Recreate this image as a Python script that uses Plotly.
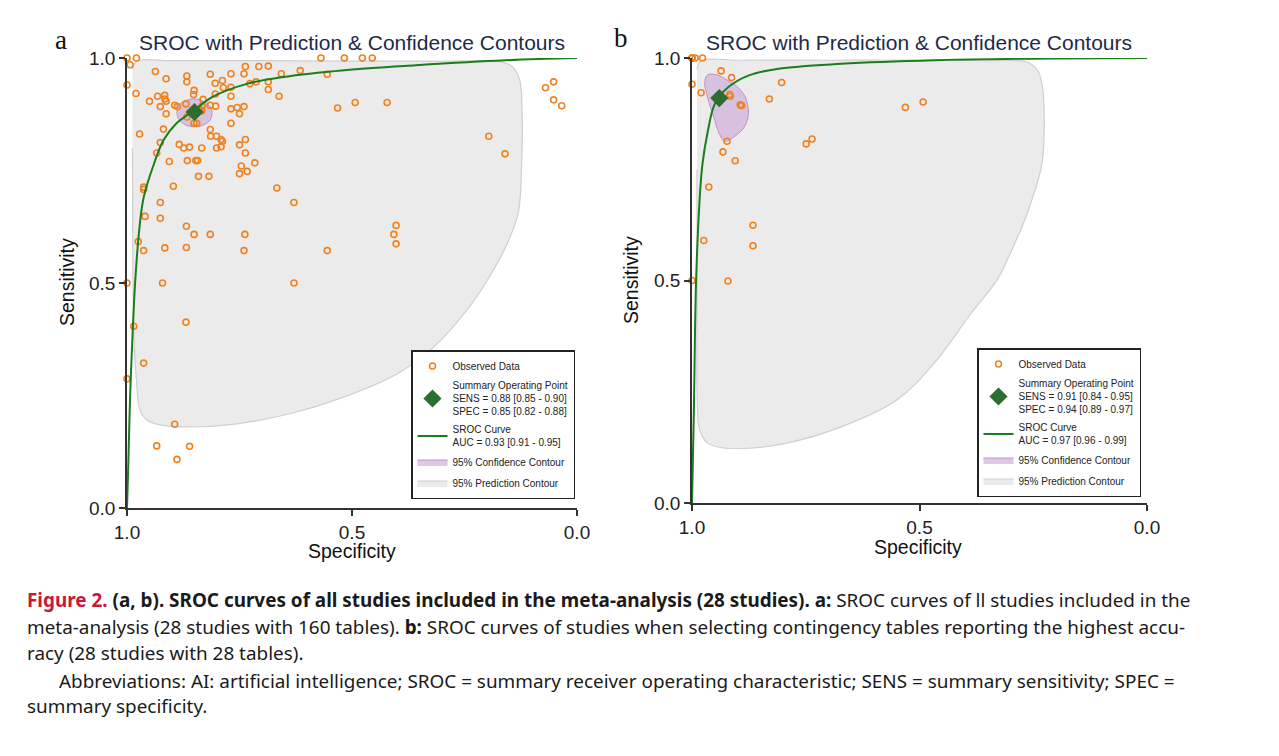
import plotly.graph_objects as go

# ---- panel a: all 160 tables (spec, sens) ----
a_spec = [1.000, 0.979, 0.993, 1.000, 0.569, 0.517, 0.477, 0.455, 0.937, 0.913,
          0.867, 0.867, 0.980, 0.950, 0.932, 0.916, 0.916, 0.913, 0.926, 0.913,
          0.894, 0.888, 0.851, 0.852, 0.815, 0.804, 0.788, 0.786, 0.769, 0.804,
          0.769, 0.740, 0.737, 0.707, 0.686, 0.727, 0.713, 0.686, 0.686, 0.662,
          0.657, 0.615, 0.555, 0.769, 0.769, 0.740, 0.750, 0.769, 0.831, 0.835,
          0.843, 0.851, 0.845, 0.867, 0.815, 0.814, 0.801, 0.791, 0.788, 0.801,
          0.791, 0.884, 0.874, 0.861, 0.834, 0.926, 0.919, 0.934, 0.906, 0.866,
          0.847, 0.843, 0.841, 0.818, 0.972, 0.750, 0.737, 0.737, 0.746, 0.750,
          0.733, 0.716, 0.897, 0.963, 0.963, 0.667, 0.629, 0.926, 0.926, 0.960,
          0.868, 0.851, 0.815, 0.738, 0.740, 0.868, 0.916, 0.963, 0.975, 0.555,
          0.402, 0.407, 0.402, 0.532, 0.493, 0.422, 0.196, 0.160, 0.070, 0.052,
          0.052, 0.034, 1.000, 0.921, 0.629, 0.869, 0.985, 0.963, 1.000, 0.894,
          0.934, 0.861, 0.889, 0.840, 0.834, 0.833, 0.815, 0.803, 0.755, 0.869]
a_sens = [1.000, 1.000, 0.985, 0.940, 1.000, 1.000, 1.000, 1.000, 0.970, 0.954,
          0.960, 0.947, 0.921, 0.904, 0.915, 0.917, 0.909, 0.904, 0.892, 0.876,
          0.895, 0.892, 0.928, 0.919, 0.964, 0.944, 0.950, 0.934, 0.935, 0.920,
          0.965, 0.965, 0.981, 0.981, 0.982, 0.943, 0.947, 0.947, 0.930, 0.915,
          0.965, 0.972, 0.964, 0.915, 0.887, 0.892, 0.876, 0.855, 0.908, 0.884,
          0.884, 0.855, 0.855, 0.869, 0.841, 0.826, 0.826, 0.819, 0.815, 0.800,
          0.803, 0.808, 0.800, 0.802, 0.800, 0.812, 0.842, 0.789, 0.770, 0.772,
          0.772, 0.772, 0.737, 0.737, 0.831, 0.807, 0.819, 0.789, 0.760, 0.743,
          0.748, 0.767, 0.715, 0.713, 0.708, 0.711, 0.679, 0.679, 0.644, 0.648,
          0.626, 0.608, 0.608, 0.608, 0.572, 0.579, 0.578, 0.572, 0.592, 0.572,
          0.628, 0.608, 0.587, 0.889, 0.901, 0.901, 0.826, 0.787, 0.934, 0.947,
          0.907, 0.894, 0.500, 0.500, 0.500, 0.413, 0.404, 0.322, 0.287, 0.186,
          0.138, 0.137, 0.108, 0.886, 0.882, 0.893, 0.895, 0.893, 0.890, 0.898]

a_sum_spec, a_sum_sens = 0.85, 0.88

a_curve_spec = [1.0, 0.997, 0.993, 0.987, 0.982, 0.973, 0.963, 0.940, 0.919, 0.891,
                0.854, 0.811, 0.732, 0.652, 0.517, 0.358, 0.159, 0.0]
a_curve_sens = [0.0, 0.10, 0.25, 0.40, 0.50, 0.616, 0.69, 0.765, 0.817, 0.854,
                0.881, 0.913, 0.943, 0.958, 0.973, 0.984, 0.995, 1.0]

a_conf_spec = [0.889, 0.884, 0.868, 0.848, 0.828, 0.814, 0.811, 0.817, 0.833, 0.853,
               0.873, 0.886, 0.889]
a_conf_sens = [0.880, 0.896, 0.906, 0.909, 0.903, 0.890, 0.874, 0.860, 0.850, 0.847,
               0.853, 0.866, 0.880]

a_pred_spec = [0.988, 0.978, 0.90, 0.70, 0.50, 0.30, 0.167, 0.143, 0.127, 0.122,
               0.123, 0.131, 0.159, 0.203, 0.239, 0.318, 0.398, 0.517, 0.636, 0.756,
               0.859, 0.923, 0.955, 0.971, 0.979, 0.985, 0.987, 0.988]
a_pred_sens = [0.975, 0.993, 0.994, 0.994, 0.993, 0.993, 0.991, 0.980, 0.950, 0.876,
               0.765, 0.654, 0.579, 0.500, 0.447, 0.358, 0.299, 0.247, 0.210, 0.187,
               0.180, 0.184, 0.195, 0.217, 0.284, 0.395, 0.55, 0.80]

# ---- panel b: highest-accuracy table per study ----
b_spec = [1.000, 0.993, 0.977, 1.000, 0.980, 0.936, 0.913, 0.917, 0.916, 0.894,
          0.891, 0.830, 0.803, 0.923, 0.932, 0.905, 0.749, 0.736, 0.531, 0.492,
          0.963, 0.866, 0.866, 0.974, 0.921, 1.000, 1.000, 1.000]
b_sens = [1.000, 1.000, 1.000, 0.941, 0.922, 0.971, 0.956, 0.918, 0.914, 0.895,
          0.893, 0.908, 0.945, 0.813, 0.789, 0.769, 0.807, 0.818, 0.889, 0.901,
          0.710, 0.624, 0.578, 0.590, 0.499, 0.500, 1.000, 1.000]

b_sum_spec, b_sum_sens = 0.94, 0.91

b_curve_spec = [1.0, 0.996, 0.991, 0.983, 0.977, 0.965, 0.953, 0.941, 0.920, 0.875,
                0.810, 0.672, 0.468, 0.20, 0.0]
b_curve_sens = [0.0, 0.20, 0.50, 0.686, 0.762, 0.837, 0.889, 0.912, 0.935, 0.961,
                0.976, 0.987, 0.995, 0.999, 1.0]

b_conf_spec = [0.966, 0.945, 0.925, 0.900, 0.882, 0.876, 0.885, 0.905, 0.928, 0.940,
               0.953, 0.966, 0.972, 0.966]
b_conf_sens = [0.962, 0.962, 0.952, 0.935, 0.910, 0.875, 0.845, 0.825, 0.813, 0.830,
               0.870, 0.912, 0.945, 0.962]

b_pred_spec = [0.989, 0.980, 0.90, 0.70, 0.50, 0.35, 0.264, 0.240, 0.230, 0.226,
               0.231, 0.264, 0.305, 0.329, 0.386, 0.468, 0.549, 0.672, 0.794, 0.875,
               0.924, 0.965, 0.983, 0.988, 0.989, 0.989]
b_pred_sens = [0.975, 0.994, 0.995, 0.995, 0.995, 0.994, 0.991, 0.972, 0.935, 0.874,
               0.762, 0.649, 0.551, 0.502, 0.427, 0.314, 0.232, 0.171, 0.134, 0.123,
               0.123, 0.134, 0.164, 0.217, 0.45, 0.75]

a_labels = ["SENS = 0.88 [0.85 - 0.90]", "SPEC = 0.85 [0.82 - 0.88]", "AUC = 0.93 [0.91 - 0.95]"]
b_labels = ["SENS = 0.91 [0.84 - 0.95]", "SPEC = 0.94 [0.89 - 0.97]", "AUC = 0.97 [0.96 - 0.99]"]

ORANGE = "#f0821e"
GREEN = "#1b7d1b"
DIAMOND = "#2b6e30"
FONT = "Liberation Sans"

fig = go.Figure()


def add_panel(xa, ya, leg, spec, sens, s_spec, s_sens, c_spec, c_sens,
              cf_spec, cf_sens, p_spec, p_sens, labels):
    common = dict(xaxis=xa, yaxis=ya, legend=leg)
    fig.add_trace(go.Scatter(
        x=p_spec, y=p_sens, mode="lines", fill="toself", line_shape="spline",
        line=dict(color="#cfcfcf", width=1.2), fillcolor="#ebebeb",
        name="95% Prediction Contour", legendrank=5, legendgroup="p", **common))
    fig.add_trace(go.Scatter(
        x=cf_spec, y=cf_sens, mode="lines", fill="toself", line_shape="spline",
        line=dict(color="rgba(180,130,195,0.8)", width=1),
        fillcolor="rgba(205,170,215,0.65)",
        name="95% Confidence Contour", legendrank=4, legendgroup="c", **common))
    fig.add_trace(go.Scatter(
        x=spec, y=sens, mode="markers", cliponaxis=False,
        marker=dict(symbol="circle-open", size=6, color=ORANGE, line=dict(width=1.6, color=ORANGE)),
        name="Observed Data", legendrank=1, legendgroup="o", **common))
    fig.add_trace(go.Scatter(
        x=c_spec, y=c_sens, mode="lines", line_shape="spline", cliponaxis=False,
        line=dict(color=GREEN, width=2),
        name="SROC Curve<br>" + labels[2], legendrank=3, legendgroup="s", **common))
    fig.add_trace(go.Scatter(
        x=[s_spec], y=[s_sens], mode="markers",
        marker=dict(symbol="diamond", size=14, color=DIAMOND),
        name="Summary Operating Point<br>" + labels[0] + "<br>" + labels[1],
        legendrank=2, legendgroup="d", **common))


add_panel("x", "y", "legend", a_spec, a_sens, a_sum_spec, a_sum_sens,
          a_curve_spec, a_curve_sens, a_conf_spec, a_conf_sens,
          a_pred_spec, a_pred_sens, a_labels)
add_panel("x2", "y2", "legend2", b_spec, b_sens, b_sum_spec, b_sum_sens,
          b_curve_spec, b_curve_sens, b_conf_spec, b_conf_sens,
          b_pred_spec, b_pred_sens, b_labels)

W, H = 1279, 756
OFF = 8  # page body margin


def px(x):
    return (x - OFF) / W


def py(y):
    return 1 - (y - OFF) / H


axis_style = dict(
    range=[1, 0], tickvals=[1, 0.5, 0], ticktext=["1.0", "0.5", "0.0"],
    showline=True, linecolor="#333", linewidth=1.5, ticks="outside",
    ticklen=6, tickwidth=1.5, tickcolor="#333", showgrid=False, zeroline=False,
    tickfont=dict(family=FONT, size=19, color="#222"), automargin=False,
)
yaxis_style = dict(axis_style, range=[0, 1])

legend_style = dict(
    xanchor="left", yanchor="top", bgcolor="white", bordercolor="#222",
    borderwidth=1.5, font=dict(family=FONT, size=10, color="#222"),
    itemwidth=30, traceorder="grouped", tracegroupgap=2,
)

fig.update_layout(
    width=W, height=H,
    margin=dict(l=0, r=0, t=0, b=0, autoexpand=False),
    paper_bgcolor="white", plot_bgcolor="white",
    xaxis=dict(axis_style, domain=[px(127), px(577)], anchor="y"),
    yaxis=dict(yaxis_style, domain=[py(508), py(58)], anchor="x"),
    xaxis2=dict(axis_style, domain=[px(692), px(1147)], anchor="y2"),
    yaxis2=dict(yaxis_style, domain=[py(503), py(58)], anchor="x2"),
    legend=dict(legend_style, x=px(411), y=py(350)),
    legend2=dict(legend_style, x=px(977), y=py(348)),
    showlegend=True,
)

# titles, panel letters and axis titles
notes = [
    dict(x=px(352), y=py(43), text="SROC with Prediction & Confidence Contours",
         font=dict(family=FONT, size=21, color="#1e2a4a")),
    dict(x=px(919), y=py(43), text="SROC with Prediction & Confidence Contours",
         font=dict(family=FONT, size=21, color="#1e2a4a")),
    dict(x=px(61), y=py(40), text="a", font=dict(family="Liberation Serif", size=27, color="#111")),
    dict(x=px(621), y=py(38), text="b", font=dict(family="Liberation Serif", size=27, color="#111")),
    dict(x=px(352), y=py(551), text="Specificity", font=dict(family=FONT, size=19.5, color="#111")),
    dict(x=px(918), y=py(547), text="Specificity", font=dict(family=FONT, size=19.5, color="#111")),
    dict(x=px(67), y=py(282), text="Sensitivity", textangle=-90, font=dict(family=FONT, size=19.5, color="#111")),
    dict(x=px(631), y=py(280), text="Sensitivity", textangle=-90, font=dict(family=FONT, size=19.5, color="#111")),
]
for n in notes:
    fig.add_annotation(xref="paper", yref="paper", showarrow=False,
                       xanchor="center", yanchor="middle", **n)

# figure caption
RED = "#c8163c"
cap_font = dict(family="Noto Sans", size=18.9, color="#1a1a1a")
caption = [
    (25, 600, "<span style='color:%s'><b>Figure 2.</b></span> <b>(a, b). SROC curves of all studies included in the meta-analysis (28 studies). a:</b> SROC curves of ll studies included in the" % RED),
    (25, 627, "meta-analysis (28 studies with 160 tables). <b>b:</b> SROC curves of studies when selecting contingency tables reporting the highest accu-"),
    (25, 653, "racy (28 studies with 28 tables)."),
    (57, 681, "Abbreviations: AI: artificial intelligence; SROC = summary receiver operating characteristic; SENS = summary sensitivity; SPEC ="),
    (25, 706, "summary specificity."),
]
for x0, y0, txt in caption:
    fig.add_annotation(xref="paper", yref="paper", x=px(x0), y=py(y0),
                       xanchor="left", yanchor="middle", showarrow=False,
                       text=txt, font=cap_font, align="left")

fig.write_html("out.html")
